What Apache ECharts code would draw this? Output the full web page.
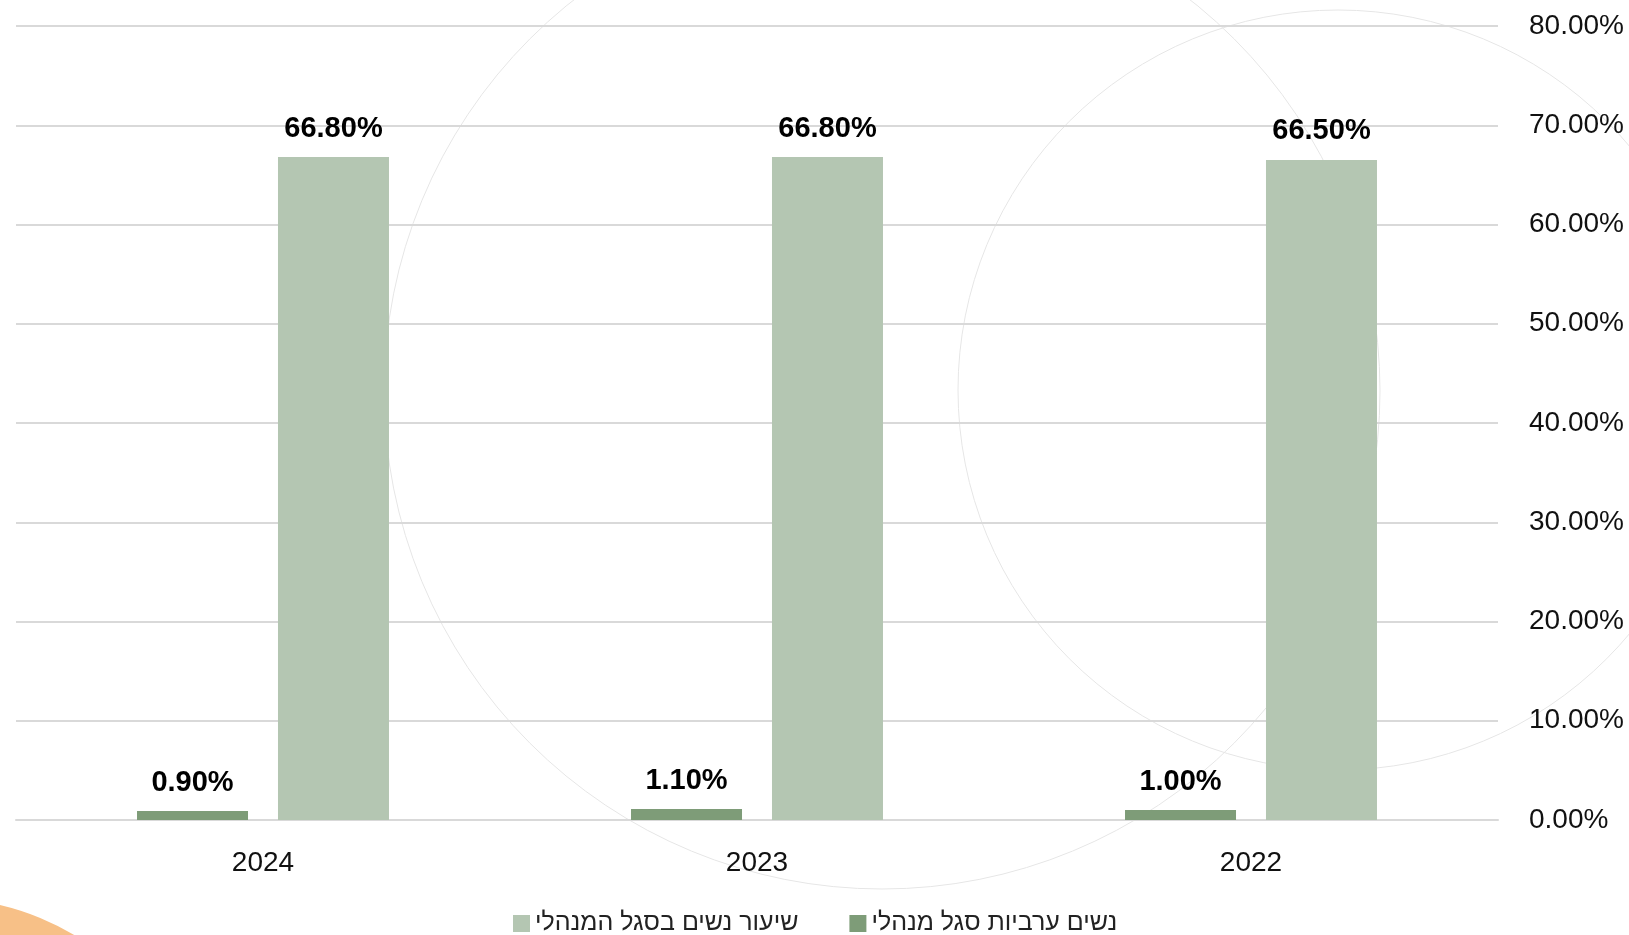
<!DOCTYPE html>
<html><head><meta charset="utf-8">
<script src="https://cdn.jsdelivr.net/npm/echarts@6/dist/echarts.min.js"></script>
<style>html,body{margin:0;padding:0;background:#fff}#c{width:1629px;height:935px}</style>
</head><body><div id="c"></div>
<script>
const categories = ['2024', '2023', '2022'];
const arabWomenName = 'נשים ערביות סגל מנהלי';
const arabWomen = [0.9, 1.1, 1.0];
const womenRateName = 'שיעור נשים בסגל המנהלי';
const womenRate = [66.8, 66.8, 66.5];
const yTicks = { min: 0, max: 80, interval: 10 };

const chart = echarts.init(document.getElementById('c'), null, { renderer: 'canvas' });
const labelStyle = {
  show: true, position: 'top', distance: 14,
  fontFamily: 'Liberation Sans', fontWeight: 'bold', fontSize: 29, color: '#000',
  formatter: p => p.value.toFixed(2) + '%'
};
chart.setOption({
  animation: false,
  graphic: [
    { type: 'circle', z: -10, shape: { cx: 882, cy: 391, r: 498 }, style: { fill: 'none', stroke: '#e6e6e6', lineWidth: 1 } },
    { type: 'circle', z: -10, shape: { cx: 1338, cy: 390, r: 380 }, style: { fill: 'none', stroke: '#e6e6e6', lineWidth: 1 } },
    { type: 'circle', z: -10, shape: { cx: -60, cy: 1160, r: 262 }, style: { fill: '#F7C087' } }
  ],
  grid: { left: 16, right: 131, top: 26, bottom: 115, containLabel: false },
  legend: {
    left: 508, top: 906,
    data: [womenRateName, arabWomenName],
    itemWidth: 17, itemHeight: 17, itemGap: 51,
    icon: 'rect',
    textStyle: { fontFamily: 'Liberation Sans', fontSize: 25, color: '#222' }
  },
  xAxis: {
    type: 'category', data: categories,
    axisLine: { lineStyle: { color: '#d9d9d9', width: 2 } },
    axisTick: { show: false },
    axisLabel: { fontFamily: 'Liberation Sans', fontSize: 28, color: '#111', margin: 29 }
  },
  yAxis: {
    type: 'value', position: 'right', min: yTicks.min, max: yTicks.max, interval: yTicks.interval,
    axisLine: { show: false }, axisTick: { show: false },
    splitLine: { lineStyle: { color: '#d9d9d9', width: 2 } },
    axisLabel: { fontFamily: 'Liberation Sans', fontSize: 28, color: '#111', margin: 31,
      formatter: v => v.toFixed(2) + '%' }
  },
  series: [
    { name: arabWomenName, type: 'bar', data: arabWomen, barWidth: 111, barGap: '27%',
      itemStyle: { color: '#7E9C78' }, label: labelStyle },
    { name: womenRateName, type: 'bar', data: womenRate, barWidth: 111,
      itemStyle: { color: '#B4C6B2' }, label: labelStyle }
  ]
});
</script></body></html>
